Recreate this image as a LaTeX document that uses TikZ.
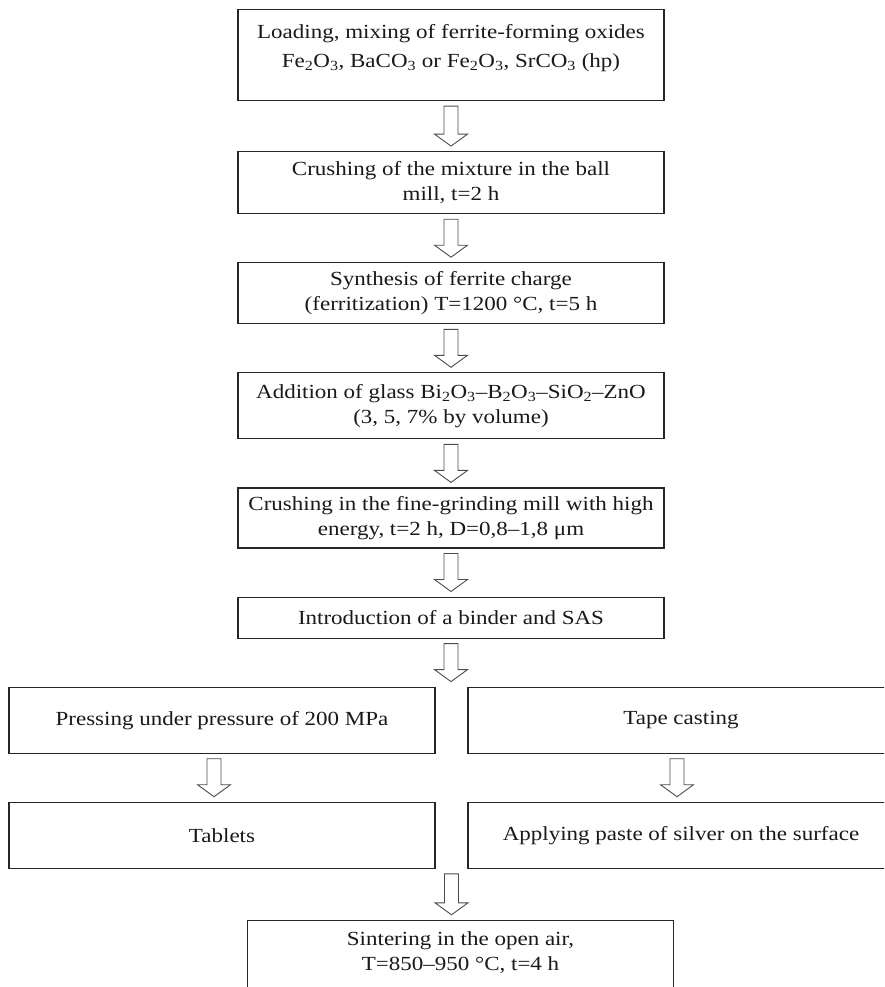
\documentclass[tikz,border=0pt]{standalone}
\usepackage{fontspec}
\setmainfont{Liberation Serif}[FakeStretch=1.15]
\usetikzlibrary{calc,positioning}
\newcommand{\sbs}[1]{\textsubscript{#1}}
\tikzset{ box/.style = { rectangle
                       , draw         = black!85
                       , line width   = 1.1pt
                       , inner sep    = 3pt
                       , minimum width = 426pt
                       , align        = center
                       , text         = black!90
                       , font         = \fontsize{20}{25}\selectfont
                       },
          flow/.style = { draw       = black!70
                        , line width = 0.9pt
                        , fill       = white
                        , to path    = { let \p1 = (\tikztostart), \p2 = (\tikztotarget) in
                                         (\x1-7pt,\y1-5pt) -- (\x1+7pt,\y1-5pt)
                                         -- (\x1+7pt,\y2+17pt) -- (\x1+16.5pt,\y2+17pt)
                                         -- (\x1,\y2+5pt) -- (\x1-16.5pt,\y2+17pt)
                                         -- (\x1-7pt,\y2+17pt) -- cycle }
                        }
        }

\begin{document}
\begin{tikzpicture}[x=1pt, y=-1pt, node distance=48pt]
            \useasboundingbox (0,0) rectangle (884,987);
            \clip (0,0) rectangle (884,987);
            % main line
            \node[box, anchor=north, text height=55pt, text depth=30pt] (load) at (451,9)
                {Loading, mixing of ferrite-forming oxides\\[4pt]
                 Fe\sbs{2}O\sbs{3}, BaCO\sbs{3} or Fe\sbs{2}O\sbs{3}, SrCO\sbs{3} (hp)};
            \node[box, minimum height=62pt, below=50pt of load] (mill)
                {Crushing of the mixture in the ball\\ mill, t=2 h};
            \node[box, minimum height=61pt, below=of mill] (synth)
                {Synthesis of ferrite charge\\ (ferritization) T=1200 °C, t=5 h};
            \node[box, minimum height=66pt, below=of synth] (glass)
                {Addition of glass Bi\sbs{2}O\sbs{3}–B\sbs{2}O\sbs{3}–SiO\sbs{2}–ZnO\\ (3, 5, 7\% by volume)};
            \node[box, minimum height=60pt, below=of glass] (fine)
                {Crushing in the fine-grinding mill with high\\ energy, t=2 h, D=0,8–1,8 μm};
            \node[box, minimum height=41pt, below=of fine] (intro)
                {Introduction of a binder and SAS};
            % two branches
            \node[box, minimum height=66pt, below=of intro, xshift=-229pt] (press)
                {Pressing under pressure of 200 MPa};
            \node[box, minimum height=66pt, below=of intro, xshift=230pt] (tape)
                {Tape casting};
            \node[box, minimum height=66pt, below=of press] (tab) {Tablets};
            \node[box, minimum height=66pt, below=of tape] (app)
                {Applying paste of silver on the surface};
            \coordinate (split) at ($(tab.south east)!0.5!(app.south west)$);
            \node[box, anchor=north, text height=47pt, text depth=20pt] (sint)
                at ($(split)+(9,51)$)
                {Sintering in the open air,\\ T=850–950 °C, t=4 h};
            % arrows
            \draw[flow] (load.south) to (mill.north);
            \draw[flow] (mill.south) to (synth.north);
            \draw[flow] (synth.south) to (glass.north);
            \draw[flow] (glass.south) to (fine.north);
            \draw[flow] (fine.south) to (intro.north);
            \draw[flow] (intro.south) to (press.north);
            \draw[flow] ([xshift=-8pt]press.south) to (tab.north);
            \draw[flow] ([xshift=-4pt]tape.south) to (app.north);
            \draw[flow] (split) to (sint.north);
\end{tikzpicture}
\end{document}
